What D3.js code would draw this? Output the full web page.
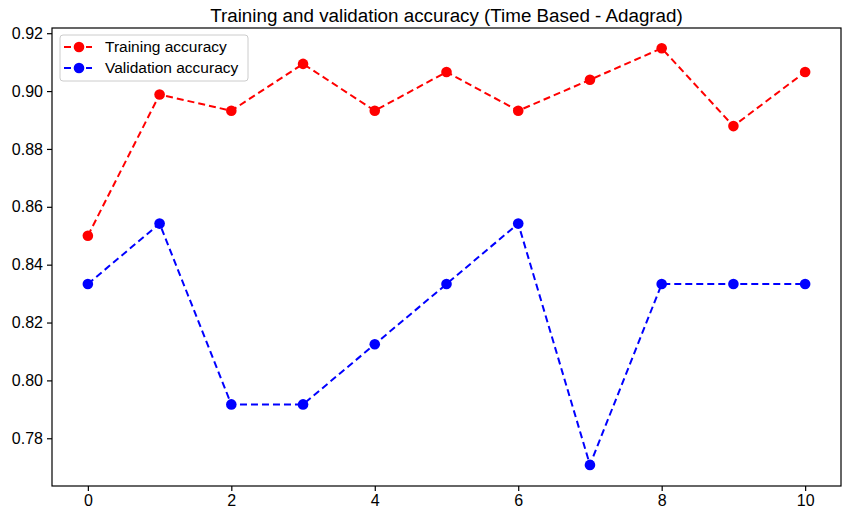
<!DOCTYPE html>
<html>
<head>
<meta charset="utf-8">
<script src="https://cdn.jsdelivr.net/npm/d3@7"></script>
<style>
  body { margin: 0; background: #fff; }
  svg { font-family: "Liberation Sans", Arial, sans-serif; }
</style>
</head>
<body>
<svg id="chart" width="845" height="512"></svg>
<script>
// data
const epochs = [0, 1, 2, 3, 4, 5, 6, 7, 8, 9, 10];
const trainAcc = [0.8500, 0.8988, 0.8932, 0.9094, 0.8932, 0.9066, 0.8932, 0.9039, 0.9148, 0.8879, 0.9066];
const valAcc = [0.8333, 0.8542, 0.7917, 0.7917, 0.8125, 0.8333, 0.8542, 0.7708, 0.8333, 0.8333, 0.8333];
const xTicks = [0, 2, 4, 6, 8, 10];
const yTicks = [0.78, 0.80, 0.82, 0.84, 0.86, 0.88, 0.90, 0.92];

const series = [
  { name: 'Training accuracy', color: '#ff0000', values: trainAcc },
  { name: 'Validation accuracy', color: '#0000ff', values: valAcc }
];

const svg = d3.select('#chart');
const margin = { left: 52, right: 4, top: 28, bottom: 26 };
const W = 845, H = 512;

const x = d3.scaleLinear().domain([-0.5, 10.5]).range([margin.left, W - margin.right]);
const y = d3.scaleLinear().domain([0.7635, 0.9218]).range([H - margin.bottom, margin.top]);

// title
svg.append('text')
  .attr('x', (margin.left + W - margin.right) / 2)
  .attr('y', 22)
  .attr('text-anchor', 'middle')
  .style('font-size', '18.8px')
  .text('Training and validation accuracy (Time Based - Adagrad)');

// axes
const xAxis = svg.append('g')
  .attr('transform', `translate(0,${H - margin.bottom})`)
  .call(d3.axisBottom(x).tickValues(xTicks).tickSize(5).tickPadding(4).tickFormat(d3.format('d')));
const yAxis = svg.append('g')
  .attr('transform', `translate(${margin.left},0)`)
  .call(d3.axisLeft(y).tickValues(yTicks).tickSize(5).tickPadding(4).tickFormat(d3.format('.2f')));

[xAxis, yAxis].forEach(a => {
  a.select('.domain').remove();
  a.selectAll('text').style('font-size', '16px').attr('fill', '#000');
  a.selectAll('line').attr('stroke', '#000').attr('stroke-width', 1.2);
});

// frame
svg.append('rect')
  .attr('x', margin.left)
  .attr('y', margin.top)
  .attr('width', W - margin.right - margin.left)
  .attr('height', H - margin.bottom - margin.top)
  .attr('fill', 'none')
  .attr('stroke', '#000')
  .attr('stroke-width', 1.2);

const line = d3.line()
  .x((d, i) => x(epochs[i]))
  .y(d => y(d));

series.forEach(s => {
  svg.append('path')
    .datum(s.values)
    .attr('d', line)
    .attr('fill', 'none')
    .attr('stroke', s.color)
    .attr('stroke-width', 2)
    .attr('stroke-dasharray', '7,4');

  svg.selectAll(null)
    .data(s.values)
    .enter()
    .append('circle')
    .attr('cx', (d, i) => x(epochs[i]))
    .attr('cy', d => y(d))
    .attr('r', 5.3)
    .attr('fill', s.color);
});

// legend
const legend = svg.append('g').attr('transform', `translate(${margin.left + 8},${margin.top + 7})`);
legend.append('rect')
  .attr('width', 188)
  .attr('height', 46)
  .attr('rx', 3)
  .attr('fill', '#fff')
  .attr('fill-opacity', 0.8)
  .attr('stroke', '#ccc');

series.forEach((s, i) => {
  const ly = 12 + i * 21;
  legend.append('line')
    .attr('x1', 4).attr('x2', 32)
    .attr('y1', ly).attr('y2', ly)
    .attr('stroke', s.color)
    .attr('stroke-width', 2)
    .attr('stroke-dasharray', '7,4');
  legend.append('circle')
    .attr('cx', 19).attr('cy', ly).attr('r', 5.3)
    .attr('fill', s.color);
  legend.append('text')
    .attr('x', 45).attr('y', ly)
    .attr('dy', '0.35em')
    .style('font-size', '15.5px')
    .text(s.name);
});
</script>
</body>
</html>
